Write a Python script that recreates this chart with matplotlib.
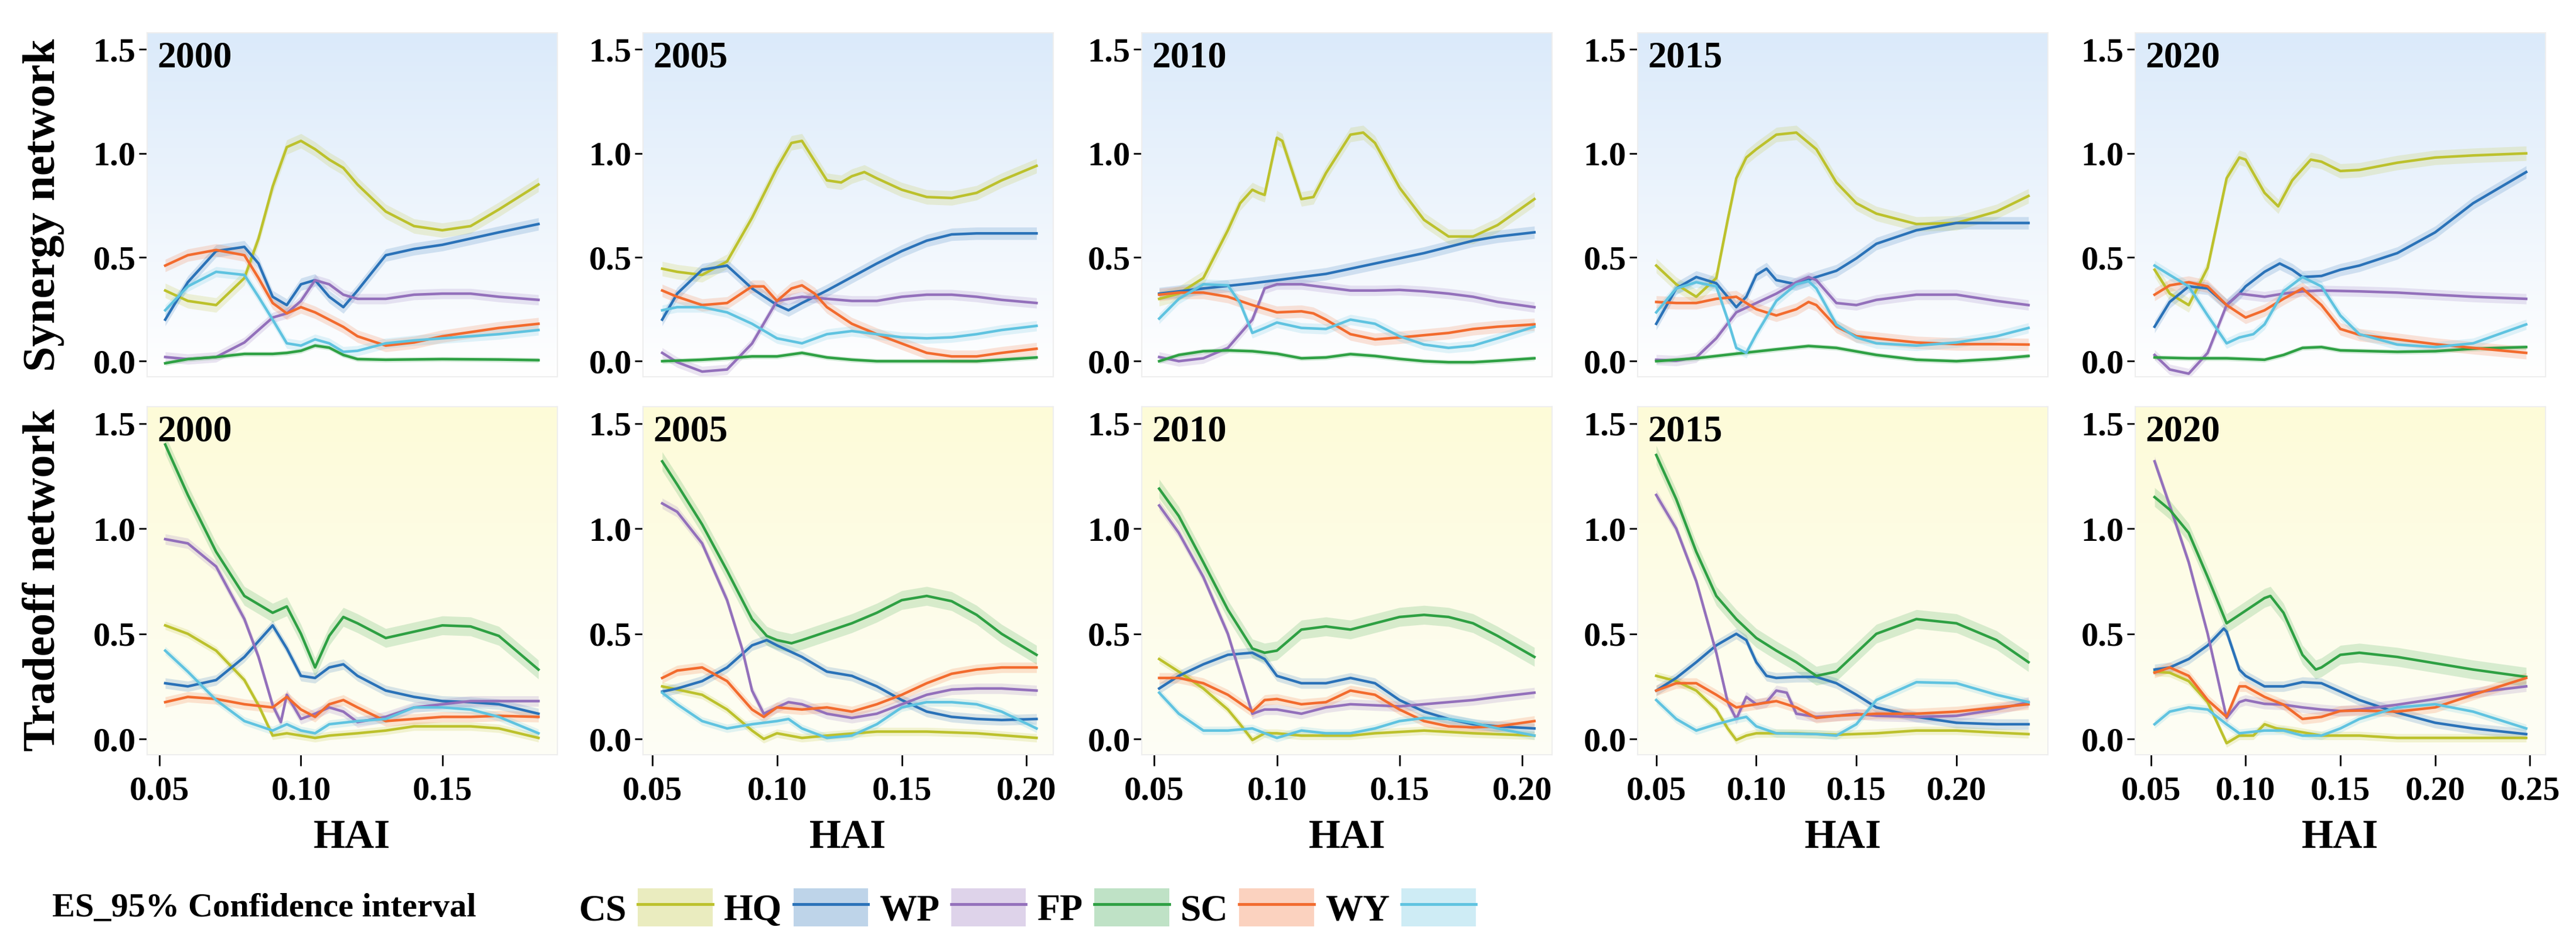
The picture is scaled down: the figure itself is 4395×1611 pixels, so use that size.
import numpy as np
import matplotlib
matplotlib.use("Agg")
import matplotlib.pyplot as plt
from matplotlib.lines import Line2D
from matplotlib.patches import Patch

plt.rcParams["font.family"] = ["Liberation Serif", "DejaVu Serif"]
plt.rcParams["font.weight"] = "bold"

NAMES = ["CS", "HQ", "WP", "FP", "SC", "WY"]
COLORS = {"CS": "#bcc12c", "HQ": "#2a72b8", "WP": "#9370bb", "FP": "#2ea043",
          "SC": "#f26b2e", "WY": "#5fc3e0"}
YEARS = ["2000", "2005", "2010", "2015", "2020"]
XLIMS = [(0.0456, 0.1907), (0.0463, 0.2107), (0.0449, 0.2122), (0.0407, 0.2457), (0.0418, 0.2582)]
XTICKS = [[0.05, 0.10, 0.15], [0.05, 0.10, 0.15, 0.20], [0.05, 0.10, 0.15, 0.20],
          [0.05, 0.10, 0.15, 0.20], [0.05, 0.10, 0.15, 0.20, 0.25]]

# ---- 2000 ----
syn2000 = {
 "CS": ([0.052,0.06,0.07,0.08,0.085,0.09,0.095,0.10,0.105,0.11,0.115,0.12,0.13,0.14,0.15,0.16,0.17,0.184],
        [0.34,0.29,0.27,0.40,0.59,0.84,1.03,1.06,1.02,0.97,0.93,0.85,0.72,0.65,0.63,0.65,0.73,0.85]),
 "HQ": ([0.052,0.06,0.07,0.08,0.085,0.09,0.095,0.10,0.105,0.11,0.115,0.12,0.13,0.14,0.15,0.16,0.17,0.184],
        [0.20,0.38,0.53,0.55,0.47,0.31,0.27,0.37,0.39,0.31,0.26,0.34,0.51,0.54,0.56,0.59,0.62,0.66]),
 "WP": ([0.052,0.06,0.07,0.08,0.085,0.09,0.095,0.10,0.105,0.11,0.115,0.12,0.13,0.14,0.15,0.16,0.17,0.184],
        [0.02,0.01,0.02,0.09,0.15,0.21,0.23,0.29,0.39,0.37,0.32,0.30,0.30,0.32,0.325,0.325,0.31,0.295]),
 "FP": ([0.052,0.06,0.07,0.08,0.09,0.095,0.10,0.105,0.11,0.115,0.12,0.13,0.15,0.17,0.184],
        [-0.01,0.01,0.02,0.035,0.035,0.04,0.05,0.075,0.065,0.03,0.01,0.007,0.01,0.008,0.005]),
 "SC": ([0.052,0.06,0.07,0.08,0.085,0.09,0.095,0.10,0.105,0.11,0.115,0.12,0.13,0.14,0.15,0.16,0.17,0.184],
        [0.46,0.51,0.535,0.51,0.40,0.28,0.23,0.26,0.235,0.20,0.165,0.12,0.075,0.09,0.12,0.14,0.16,0.18]),
 "WY": ([0.052,0.06,0.07,0.08,0.085,0.09,0.095,0.10,0.105,0.11,0.115,0.12,0.13,0.14,0.15,0.16,0.17,0.184],
        [0.245,0.36,0.43,0.415,0.31,0.20,0.086,0.075,0.105,0.086,0.045,0.05,0.086,0.10,0.11,0.12,0.13,0.15]),
}
tra2000 = {
 "CS": ([0.052,0.06,0.07,0.08,0.085,0.09,0.095,0.10,0.105,0.11,0.12,0.13,0.14,0.15,0.16,0.17,0.184],
        [0.54,0.50,0.42,0.28,0.16,0.016,0.027,0.016,0.005,0.016,0.027,0.04,0.06,0.06,0.06,0.05,0.005]),
 "HQ": ([0.052,0.06,0.07,0.08,0.09,0.095,0.10,0.105,0.11,0.115,0.12,0.13,0.14,0.15,0.16,0.17,0.184],
        [0.265,0.25,0.28,0.39,0.54,0.43,0.30,0.29,0.34,0.355,0.30,0.23,0.20,0.18,0.175,0.165,0.12]),
 "WP": ([0.052,0.06,0.07,0.08,0.085,0.09,0.0929,0.095,0.10,0.105,0.11,0.115,0.12,0.13,0.14,0.15,0.16,0.17,0.184],
        [0.95,0.93,0.82,0.57,0.39,0.16,0.08,0.21,0.095,0.12,0.15,0.13,0.08,0.105,0.15,0.165,0.18,0.18,0.18]),
 "FP": ([0.052,0.06,0.07,0.08,0.09,0.095,0.10,0.105,0.11,0.115,0.12,0.13,0.14,0.15,0.16,0.17,0.184],
        [1.40,1.16,0.89,0.68,0.60,0.63,0.50,0.34,0.49,0.58,0.55,0.48,0.51,0.54,0.535,0.49,0.33]),
 "SC": ([0.052,0.06,0.07,0.08,0.09,0.095,0.10,0.105,0.11,0.115,0.12,0.13,0.14,0.15,0.16,0.17,0.184],
        [0.175,0.20,0.19,0.165,0.15,0.20,0.14,0.105,0.165,0.185,0.15,0.085,0.095,0.105,0.105,0.11,0.105]),
 "WY": ([0.052,0.06,0.07,0.08,0.09,0.095,0.10,0.105,0.11,0.12,0.13,0.14,0.15,0.16,0.17,0.184],
        [0.42,0.32,0.185,0.085,0.04,0.07,0.04,0.027,0.07,0.085,0.095,0.15,0.15,0.14,0.105,0.027]),
}

# ---- 2005 ----
syn2005 = {
 "CS": ([0.054,0.06,0.07,0.08,0.09,0.10,0.1058,0.11,0.12,0.1257,0.13,0.135,0.14,0.15,0.16,0.17,0.18,0.19,0.204],
        [0.445,0.43,0.415,0.48,0.69,0.93,1.05,1.06,0.87,0.86,0.89,0.91,0.88,0.825,0.79,0.785,0.81,0.87,0.94]),
 "HQ": ([0.054,0.06,0.07,0.08,0.09,0.10,0.1046,0.11,0.12,0.13,0.14,0.15,0.16,0.17,0.18,0.19,0.204],
        [0.20,0.325,0.44,0.46,0.35,0.27,0.245,0.28,0.34,0.405,0.47,0.53,0.58,0.61,0.615,0.615,0.615]),
 "WP": ([0.054,0.06,0.07,0.08,0.09,0.10,0.11,0.12,0.13,0.14,0.15,0.16,0.17,0.18,0.19,0.204],
        [0.04,-0.005,-0.05,-0.04,0.085,0.29,0.31,0.30,0.29,0.29,0.31,0.32,0.32,0.31,0.295,0.28]),
 "FP": ([0.054,0.07,0.08,0.09,0.10,0.11,0.12,0.13,0.14,0.16,0.18,0.19,0.204],
        [0.0,0.007,0.014,0.023,0.023,0.04,0.018,0.007,0.0,0.0,0.0,0.007,0.018]),
 "SC": ([0.054,0.06,0.07,0.08,0.09,0.0947,0.10,0.1058,0.11,0.1151,0.12,0.13,0.14,0.15,0.16,0.17,0.18,0.19,0.204],
        [0.34,0.31,0.27,0.28,0.36,0.36,0.29,0.35,0.365,0.325,0.26,0.18,0.13,0.085,0.04,0.023,0.023,0.04,0.06]),
 "WY": ([0.054,0.06,0.07,0.08,0.09,0.10,0.11,0.12,0.13,0.14,0.15,0.16,0.17,0.18,0.19,0.204],
        [0.245,0.26,0.26,0.235,0.18,0.11,0.086,0.13,0.145,0.13,0.115,0.11,0.115,0.13,0.15,0.17]),
}
tra2005 = {
 "CS": ([0.054,0.06,0.07,0.08,0.09,0.0947,0.10,0.11,0.12,0.14,0.16,0.18,0.204],
        [0.25,0.235,0.21,0.14,0.04,0.0,0.027,0.005,0.016,0.035,0.035,0.027,0.005]),
 "HQ": ([0.054,0.06,0.07,0.08,0.09,0.0959,0.10,0.11,0.12,0.13,0.14,0.15,0.16,0.17,0.18,0.19,0.204],
        [0.225,0.24,0.275,0.34,0.445,0.47,0.445,0.39,0.32,0.30,0.25,0.185,0.13,0.105,0.095,0.09,0.095]),
 "WP": ([0.054,0.06,0.07,0.08,0.086,0.09,0.0947,0.10,0.1046,0.11,0.12,0.13,0.14,0.15,0.16,0.17,0.18,0.19,0.204],
        [1.12,1.08,0.93,0.66,0.43,0.23,0.12,0.15,0.175,0.165,0.12,0.10,0.12,0.165,0.21,0.235,0.24,0.24,0.23]),
 "FP": ([0.054,0.06,0.07,0.08,0.09,0.0959,0.10,0.1058,0.11,0.12,0.13,0.14,0.15,0.16,0.17,0.18,0.19,0.204],
        [1.32,1.21,1.02,0.80,0.57,0.49,0.47,0.455,0.47,0.51,0.55,0.60,0.66,0.68,0.655,0.59,0.50,0.40]),
 "SC": ([0.054,0.06,0.07,0.08,0.09,0.0947,0.10,0.11,0.12,0.13,0.14,0.15,0.16,0.17,0.18,0.19,0.204],
        [0.29,0.325,0.34,0.275,0.14,0.105,0.15,0.14,0.15,0.13,0.165,0.21,0.265,0.31,0.33,0.34,0.34]),
 "WY": ([0.054,0.06,0.07,0.08,0.09,0.10,0.1046,0.11,0.12,0.13,0.14,0.15,0.16,0.17,0.18,0.19,0.204],
        [0.22,0.165,0.085,0.05,0.07,0.085,0.095,0.05,0.005,0.016,0.07,0.15,0.175,0.175,0.165,0.13,0.05]),
}

# ---- 2010 ----
syn2010 = {
 "CS": ([0.052,0.06,0.07,0.08,0.085,0.09,0.0926,0.095,0.0977,0.10,0.1022,0.11,0.1149,0.12,0.13,0.1352,0.14,0.15,0.16,0.17,0.18,0.19,0.205],
        [0.30,0.325,0.40,0.63,0.76,0.825,0.81,0.80,0.95,1.075,1.06,0.78,0.79,0.905,1.09,1.10,1.05,0.835,0.68,0.60,0.60,0.655,0.78]),
 "HQ": ([0.052,0.07,0.09,0.10,0.11,0.12,0.13,0.14,0.15,0.16,0.17,0.18,0.19,0.205],
        [0.325,0.35,0.375,0.39,0.405,0.42,0.445,0.47,0.495,0.52,0.55,0.58,0.60,0.62]),
 "WP": ([0.052,0.06,0.07,0.08,0.09,0.095,0.10,0.11,0.12,0.13,0.14,0.15,0.16,0.17,0.18,0.19,0.205],
        [0.02,0.0,0.014,0.064,0.20,0.35,0.37,0.37,0.355,0.34,0.34,0.343,0.336,0.325,0.31,0.285,0.26]),
 "FP": ([0.052,0.06,0.07,0.08,0.09,0.10,0.11,0.12,0.13,0.14,0.15,0.16,0.17,0.18,0.19,0.205],
        [0.0,0.03,0.048,0.052,0.048,0.036,0.014,0.018,0.034,0.025,0.011,0.0,-0.005,-0.005,0.002,0.014]),
 "SC": ([0.052,0.06,0.07,0.08,0.09,0.10,0.11,0.1149,0.12,0.13,0.14,0.15,0.16,0.17,0.18,0.19,0.205],
        [0.32,0.33,0.33,0.31,0.27,0.235,0.24,0.23,0.20,0.13,0.105,0.114,0.125,0.136,0.155,0.166,0.177]),
 "WY": ([0.052,0.06,0.07,0.08,0.085,0.09,0.095,0.10,0.11,0.12,0.13,0.14,0.15,0.16,0.17,0.18,0.19,0.205],
        [0.205,0.30,0.37,0.365,0.28,0.136,0.16,0.186,0.16,0.155,0.20,0.18,0.12,0.08,0.064,0.075,0.11,0.166]),
}
tra2010 = {
 "CS": ([0.052,0.06,0.07,0.08,0.085,0.09,0.095,0.10,0.11,0.12,0.13,0.14,0.16,0.18,0.205],
        [0.38,0.32,0.24,0.14,0.07,-0.005,0.027,0.027,0.016,0.016,0.016,0.027,0.04,0.027,0.016]),
 "HQ": ([0.052,0.06,0.07,0.08,0.09,0.095,0.10,0.11,0.12,0.13,0.14,0.15,0.16,0.17,0.18,0.19,0.205],
        [0.24,0.30,0.355,0.40,0.41,0.38,0.30,0.265,0.265,0.29,0.265,0.185,0.13,0.095,0.07,0.06,0.05]),
 "WP": ([0.052,0.06,0.07,0.08,0.09,0.095,0.10,0.11,0.12,0.13,0.14,0.15,0.16,0.17,0.18,0.19,0.205],
        [1.11,0.98,0.77,0.50,0.12,0.14,0.14,0.12,0.15,0.165,0.16,0.155,0.165,0.175,0.185,0.20,0.22]),
 "FP": ([0.052,0.06,0.07,0.08,0.09,0.095,0.10,0.11,0.12,0.13,0.14,0.15,0.16,0.17,0.18,0.19,0.205],
        [1.19,1.06,0.84,0.615,0.43,0.41,0.42,0.52,0.535,0.52,0.55,0.58,0.59,0.58,0.55,0.49,0.39]),
 "SC": ([0.052,0.06,0.07,0.08,0.09,0.095,0.10,0.11,0.12,0.13,0.14,0.15,0.16,0.17,0.18,0.19,0.205],
        [0.29,0.29,0.265,0.21,0.13,0.185,0.19,0.165,0.175,0.23,0.21,0.14,0.085,0.06,0.055,0.06,0.085]),
 "WY": ([0.052,0.06,0.07,0.08,0.09,0.10,0.11,0.12,0.13,0.14,0.15,0.16,0.17,0.18,0.19,0.205],
        [0.22,0.12,0.04,0.04,0.05,0.005,0.04,0.027,0.027,0.05,0.085,0.10,0.095,0.077,0.05,0.016]),
}

# ---- 2015 ----
syn2015 = {
 "CS": ([0.05,0.06,0.07,0.08,0.0857,0.09,0.095,0.10,0.11,0.12,0.13,0.14,0.15,0.16,0.18,0.20,0.22,0.236],
        [0.46,0.37,0.31,0.40,0.68,0.88,0.98,1.02,1.09,1.10,1.02,0.86,0.76,0.71,0.66,0.665,0.72,0.795]),
 "HQ": ([0.05,0.06,0.07,0.08,0.09,0.095,0.10,0.1051,0.11,0.12,0.13,0.14,0.15,0.16,0.18,0.20,0.22,0.236],
        [0.18,0.35,0.405,0.375,0.26,0.31,0.415,0.445,0.39,0.37,0.405,0.435,0.495,0.565,0.63,0.665,0.665,0.665]),
 "WP": ([0.05,0.06,0.07,0.08,0.09,0.10,0.11,0.12,0.1261,0.13,0.14,0.15,0.16,0.18,0.20,0.22,0.236],
        [0.007,0.002,0.018,0.11,0.235,0.28,0.325,0.38,0.405,0.39,0.28,0.27,0.295,0.32,0.32,0.29,0.27]),
 "FP": ([0.05,0.07,0.09,0.11,0.1261,0.14,0.16,0.18,0.20,0.22,0.236],
        [0.0,0.014,0.036,0.057,0.073,0.064,0.03,0.007,0.0,0.011,0.025]),
 "SC": ([0.05,0.06,0.07,0.08,0.09,0.10,0.11,0.12,0.1261,0.13,0.14,0.15,0.16,0.18,0.20,0.22,0.236],
        [0.285,0.28,0.28,0.30,0.31,0.25,0.22,0.25,0.285,0.27,0.166,0.12,0.11,0.09,0.082,0.082,0.08]),
 "WY": ([0.05,0.06,0.07,0.08,0.0857,0.09,0.095,0.10,0.11,0.12,0.1261,0.13,0.14,0.15,0.16,0.18,0.20,0.22,0.236],
        [0.235,0.35,0.38,0.36,0.20,0.064,0.04,0.13,0.29,0.37,0.385,0.35,0.177,0.114,0.086,0.075,0.09,0.12,0.16]),
}
tra2015 = {
 "CS": ([0.05,0.06,0.07,0.08,0.0857,0.09,0.095,0.10,0.12,0.14,0.16,0.18,0.20,0.22,0.236],
        [0.30,0.275,0.23,0.14,0.05,-0.005,0.016,0.027,0.027,0.02,0.027,0.04,0.04,0.03,0.023]),
 "HQ": ([0.05,0.06,0.07,0.08,0.09,0.095,0.10,0.1051,0.11,0.12,0.13,0.14,0.15,0.16,0.18,0.20,0.22,0.236],
        [0.23,0.29,0.365,0.445,0.50,0.47,0.365,0.30,0.29,0.295,0.295,0.265,0.21,0.15,0.105,0.077,0.07,0.07]),
 "WP": ([0.05,0.06,0.07,0.08,0.0857,0.09,0.095,0.10,0.1051,0.11,0.1152,0.12,0.13,0.14,0.15,0.16,0.18,0.20,0.22,0.236],
        [1.16,1.0,0.75,0.41,0.175,0.095,0.20,0.165,0.175,0.23,0.22,0.12,0.105,0.11,0.12,0.11,0.105,0.11,0.14,0.175]),
 "FP": ([0.05,0.06,0.07,0.08,0.09,0.10,0.11,0.12,0.13,0.14,0.15,0.16,0.18,0.20,0.22,0.236],
        [1.35,1.14,0.89,0.68,0.57,0.48,0.42,0.365,0.30,0.32,0.41,0.50,0.57,0.55,0.47,0.365]),
 "SC": ([0.05,0.06,0.07,0.08,0.09,0.10,0.11,0.12,0.13,0.14,0.16,0.18,0.20,0.22,0.236],
        [0.23,0.265,0.265,0.21,0.15,0.165,0.18,0.15,0.10,0.11,0.12,0.12,0.13,0.15,0.165]),
 "WY": ([0.05,0.06,0.07,0.08,0.09,0.095,0.10,0.11,0.13,0.14,0.15,0.16,0.18,0.20,0.22,0.236],
        [0.185,0.095,0.04,0.07,0.095,0.105,0.06,0.027,0.023,0.016,0.07,0.185,0.27,0.265,0.21,0.175]),
}

# ---- 2020 ----
syn2020 = {
 "CS": ([0.052,0.06,0.07,0.08,0.09,0.0967,0.10,0.11,0.1172,0.1246,0.1344,0.14,0.15,0.16,0.18,0.20,0.22,0.248],
        [0.44,0.325,0.27,0.45,0.88,0.98,0.97,0.81,0.745,0.87,0.97,0.96,0.915,0.92,0.955,0.98,0.99,1.0]),
 "HQ": ([0.052,0.06,0.07,0.08,0.09,0.0967,0.10,0.11,0.118,0.1246,0.13,0.14,0.15,0.16,0.18,0.20,0.22,0.248],
        [0.166,0.285,0.36,0.35,0.27,0.325,0.36,0.43,0.47,0.44,0.405,0.41,0.44,0.46,0.52,0.62,0.76,0.91]),
 "WP": ([0.052,0.06,0.07,0.08,0.09,0.0967,0.11,0.12,0.13,0.14,0.16,0.18,0.20,0.22,0.248],
        [0.03,-0.04,-0.06,0.04,0.27,0.325,0.31,0.325,0.336,0.34,0.336,0.33,0.32,0.31,0.30]),
 "FP": ([0.052,0.07,0.09,0.11,0.12,0.13,0.14,0.15,0.18,0.20,0.22,0.248],
        [0.018,0.014,0.014,0.007,0.03,0.064,0.068,0.052,0.045,0.048,0.06,0.068]),
 "SC": ([0.052,0.06,0.07,0.08,0.09,0.10,0.11,0.12,0.13,0.14,0.15,0.16,0.18,0.20,0.22,0.248],
        [0.32,0.365,0.38,0.36,0.27,0.21,0.245,0.30,0.35,0.27,0.155,0.127,0.105,0.082,0.064,0.04]),
 "WY": ([0.052,0.06,0.07,0.08,0.09,0.0967,0.1041,0.11,0.12,0.13,0.14,0.15,0.16,0.18,0.20,0.22,0.248],
        [0.46,0.415,0.36,0.22,0.086,0.114,0.13,0.177,0.336,0.405,0.36,0.22,0.13,0.08,0.068,0.086,0.177]),
}
tra2020 = {
 "CS": ([0.052,0.06,0.07,0.08,0.09,0.0967,0.1041,0.11,0.1164,0.1246,0.14,0.16,0.18,0.20,0.248],
        [0.32,0.315,0.275,0.175,-0.02,0.016,0.016,0.07,0.05,0.04,0.016,0.016,0.005,0.005,0.005]),
 "HQ": ([0.052,0.06,0.07,0.08,0.0885,0.09,0.0967,0.10,0.11,0.12,0.13,0.14,0.15,0.16,0.18,0.20,0.22,0.248],
        [0.33,0.34,0.38,0.445,0.525,0.51,0.33,0.30,0.25,0.25,0.27,0.265,0.225,0.185,0.125,0.077,0.05,0.023]),
 "WP": ([0.052,0.06,0.07,0.08,0.09,0.0967,0.10,0.11,0.12,0.13,0.14,0.15,0.16,0.18,0.20,0.22,0.248],
        [1.32,1.11,0.84,0.50,0.10,0.175,0.185,0.167,0.163,0.15,0.14,0.133,0.14,0.163,0.19,0.22,0.25]),
 "FP": ([0.052,0.06,0.07,0.08,0.09,0.0967,0.11,0.1131,0.12,0.13,0.137,0.14,0.15,0.16,0.18,0.20,0.22,0.248],
        [1.15,1.09,0.98,0.77,0.55,0.59,0.67,0.68,0.60,0.40,0.33,0.34,0.40,0.41,0.39,0.36,0.33,0.295]),
 "SC": ([0.052,0.06,0.07,0.08,0.09,0.0967,0.10,0.11,0.12,0.13,0.14,0.15,0.16,0.18,0.20,0.22,0.248],
        [0.315,0.34,0.30,0.185,0.105,0.25,0.25,0.20,0.163,0.095,0.105,0.133,0.135,0.13,0.15,0.21,0.29]),
 "WY": ([0.052,0.06,0.07,0.08,0.09,0.0967,0.11,0.12,0.13,0.14,0.15,0.16,0.18,0.20,0.22,0.248],
        [0.07,0.13,0.15,0.14,0.07,0.027,0.04,0.04,0.016,0.016,0.05,0.095,0.15,0.165,0.13,0.05]),
}

SYN = [syn2000, syn2005, syn2010, syn2015, syn2020]
TRA = [tra2000, tra2005, tra2010, tra2015, tra2020]
# CI half-widths per ES
BAND_SYN = {"CS": 0.035, "HQ": 0.03, "WP": 0.025, "FP": 0.012, "SC": 0.03, "WY": 0.025}
BAND_TRA = {"CS": 0.02, "HQ": 0.025, "WP": 0.025, "FP": 0.045, "SC": 0.025, "WY": 0.02}

W, H = 4395, 1611
fig = plt.figure(figsize=(W / 100, H / 100), dpi=100)
LEFTS = [251, 1097, 1948, 2794, 3643]
AW = 700
ROWS = [(56, 643), (694, 1288)]
GRAD = [("#dbeafa", "#ffffff"), ("#fdfbd8", "#fefef6")]


def gradient(ax, top, bottom):
    c1 = np.array(matplotlib.colors.to_rgb(top))
    c2 = np.array(matplotlib.colors.to_rgb(bottom))
    t = np.linspace(0, 1, 256)[:, None]
    img = (c1 * (1 - t) + c2 * t)[:, None, :]
    ax.imshow(img, extent=[0, 1, 0, 1], transform=ax.transAxes, aspect="auto", zorder=0)


for r, (datasets, bands) in enumerate([(SYN, BAND_SYN), (TRA, BAND_TRA)]):
    top, bot = ROWS[r]
    for c in range(5):
        ax = fig.add_axes([LEFTS[c] / W, 1 - bot / H, AW / W, (bot - top) / H])
        gradient(ax, *GRAD[r])
        for name in NAMES:
            x, y = datasets[c][name]
            x = np.array(x); y = np.array(y)
            ax.fill_between(x, y - bands[name], y + bands[name], color=COLORS[name],
                            alpha=0.18, lw=0, zorder=2)
            ax.plot(x, y, color=COLORS[name], lw=3.2, zorder=3, solid_joinstyle="round")
        ax.set_xlim(*XLIMS[c]); ax.set_ylim(-0.075, 1.58)
        for s in ax.spines.values():
            s.set_color("#eeeeee"); s.set_linewidth(1.5)
        ax.set_yticks([0.0, 0.5, 1.0, 1.5])
        ax.set_yticklabels(["0.0", "0.5", "1.0", "1.5"])
        ax.tick_params(axis="y", length=10, width=2, labelsize=42, pad=4)
        ax.text(0.025, 0.975, YEARS[c], transform=ax.transAxes, ha="left", va="top",
                fontsize=46, fontweight="bold", zorder=5)
        if r == 1:
            ax.set_xticks(XTICKS[c])
            ax.set_xticklabels(["%.2f" % v for v in XTICKS[c]])
            ax.tick_params(axis="x", length=14, width=2, labelsize=42, pad=12)
            ax.set_xlabel("HAI", fontsize=50, fontweight="bold", labelpad=16)
        else:
            ax.set_xticks([])

fig.text(0.017, 1 - 350 / H, "Synergy network", rotation=90, ha="center", va="center",
         fontsize=56, fontweight="bold")
fig.text(0.017, 1 - 990 / H, "Tradeoff network", rotation=90, ha="center", va="center",
         fontsize=56, fontweight="bold")

fig.text(89 / W, 1 - 1550 / H, "ES_95% Confidence interval", ha="left", va="center",
         fontsize=42, fontweight="bold")
handles = [(Patch(facecolor=COLORS[n], alpha=0.3, lw=0), Line2D([], [], color=COLORS[n], lw=3.5))
           for n in NAMES]
fig.legend(handles, NAMES, loc="center left", bbox_to_anchor=(930 / W, 1 - 1550 / H),
           ncol=6, frameon=False, markerfirst=False, fontsize=46, handlelength=2.0,
           handleheight=1.2, columnspacing=0.3, handletextpad=0.3)

fig.savefig("out.png", dpi=100)
